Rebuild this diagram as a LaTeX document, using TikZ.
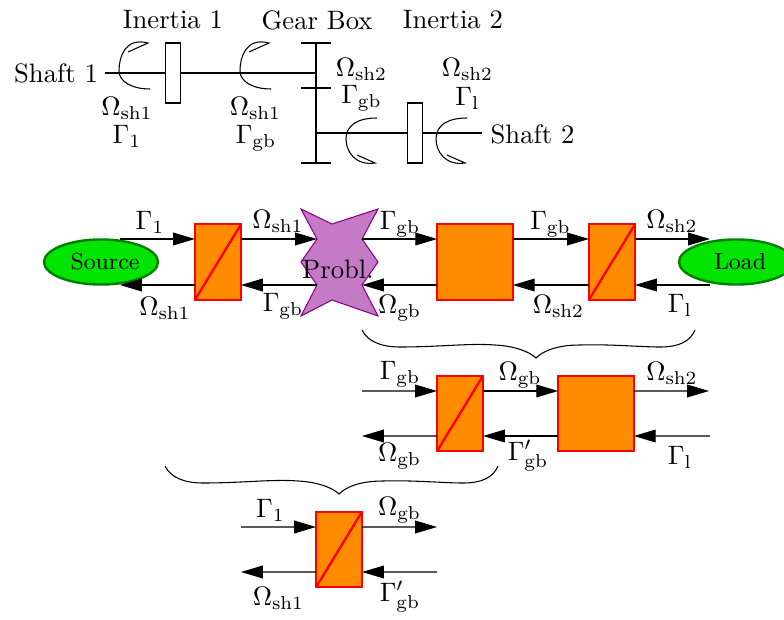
\documentclass[tikz,border=0pt]{standalone}
\usepackage{amsmath,amssymb}
\usepackage{tikz}
\usetikzlibrary{arrows.meta,shapes.geometric}
\usepackage{xcolor}
\definecolor{boxorange}{RGB}{255,140,0}
\definecolor{boxred}{RGB}{255,0,0}
\definecolor{srcgreen}{RGB}{0,228,0}
\definecolor{srcedge}{RGB}{0,128,0}
\definecolor{probfill}{RGB}{196,122,196}
\definecolor{probedge}{RGB}{139,0,139}
\tikzset{
  flow/.style={-{Triangle[length=8.2pt,width=4.8pt]}},
  conv/.style={draw=boxred,line width=0.9pt,fill=boxorange,minimum width=17.25pt,minimum height=28.3pt,inner sep=0pt,outer sep=0pt},
  gain/.style={conv,minimum width=28.4pt},
  diag/.style={boxred,line width=0.9pt},
  ends/.style={ellipse,draw=srcedge,line width=0.9pt,fill=srcgreen,minimum width=42.75pt,minimum height=16.9pt,inner sep=0pt,font=\fontsize{8.7}{10}\selectfont},
  inertia/.style={draw,fill=white,minimum width=5.8pt,minimum height=22.5pt,inner sep=0pt,outer sep=0pt},
  turnup/.pic={\draw (31,16) .. controls (12,16) and (0,8) .. (0,-2) .. controls (0,-16) and (6,-36) .. (29,-30) -- (9,-21);},
  turndown/.pic={\draw (31,-15) .. controls (12,-15) and (0,-8) .. (0,6) .. controls (0,18) and (9,33) .. (29,30) -- (11,22);}
}
\begin{document}
\begin{tikzpicture}[x=0.375pt,y=-0.375pt]
    \useasboundingbox (0,0) rectangle (784,620);
    % shafts
    \node (shaftone) at (56,73) {Shaft 1};
    \node (shafttwo) at (532.5,134) {Shaft 2};
    \node (inertone) at (173,20) {Inertia 1};
    \node (gearbox) at (317,20) {Gear Box};
    \node (inerttwo) at (453,20) {Inertia 2};
    \coordinate (shone) at (105,73);
    \coordinate (gbone) at (316,73);
    \coordinate (gbtwo) at (316,133);
    \coordinate (shtwo) at (482,133);
    \draw (shone) -- (gbone);
    \draw (gbtwo) -- (shtwo);
    \node[inertia] (disc1) at (173,73) {};
    \node[inertia] (disc2) at (415,133) {};
    \draw (316,43) -- (316,163);
    \draw (301,43) -- (331,43);
    \draw (301,88) -- (331,88);
    \draw (301,163) -- (331,163);
    \pic at (119,73) {turnup};
    \pic at (240,73) {turnup};
    \pic at (346,133) {turndown};
    \pic at (436,133) {turndown};
    \node (ta) at (127,108) {$\Omega_{\rm sh1}$};
    \node (tb) at (127,136) {$\Gamma_{1}$};
    \node (tc) at (255.5,108) {$\Omega_{\rm sh1}$};
    \node (td) at (256,138) {$\Gamma_{\rm gb}$};
    \node (te) at (361.5,69) {$\Omega_{\rm sh2}$};
    \node (tf) at (361.5,98) {$\Gamma_{\rm gb}$};
    \node (tg) at (467.5,69) {$\Omega_{\rm sh2}$};
    \node (th) at (467.5,98) {$\Gamma_{\rm l}$};
    % full chain
    \node[ends] (source) at (101,262) {\hspace*{3pt}Source};
    \node[ends] (load) at (736,262) {\hspace*{3pt}Load};
    \node[conv] (c1) at (218,262) {};
    \node[gain] (g1) at (475,262) {};
    \node[conv] (c2) at (612,262) {};
    \draw[diag] (c1.south west) -- (c1.north east);
    \draw[diag] (c2.south west) -- (c2.north east);
    \coordinate (pnw) at (317,239);
    \coordinate (pne) at (362,239);
    \coordinate (pse) at (362,285);
    \coordinate (psw) at (317,285);
    \draw[probedge,fill=probfill] (301,209) -- (332,224) -- (378,209) -- (pne) -- (378,262) -- (pse)
      -- (378,316) -- (332,300) -- (301,316) -- (psw) -- (301,262) -- (pnw) -- cycle;
    \node (prob) at (338,269) {Probl.};
    \coordinate (srcup) at (120,239);
    \coordinate (srcdn) at (120,285);
    \coordinate (loadup) at (710,239);
    \coordinate (loaddn) at (710,285);
    \draw[flow] (srcup) -- ([yshift=8.625pt]c1.west);
    \draw[flow] ([yshift=8.625pt]c1.east) -- (pnw);
    \draw[flow] (pne) -- ([yshift=8.625pt]g1.west);
    \draw[flow] ([yshift=8.625pt]g1.east) -- ([yshift=8.625pt]c2.west);
    \draw[flow] ([yshift=8.625pt]c2.east) -- (loadup);
    \draw[flow] (loaddn) -- ([yshift=-8.625pt]c2.east);
    \draw[flow] ([yshift=-8.625pt]c2.west) -- ([yshift=-8.625pt]g1.east);
    \draw[flow] ([yshift=-8.625pt]g1.west) -- (pse);
    \draw[flow] (psw) -- ([yshift=-8.625pt]c1.east);
    \draw[flow] ([yshift=-8.625pt]c1.west) -- (srcdn);
    \node (ua) at (150,222) {$\Gamma_{1}$};
    \node (ub) at (278,221) {$\Omega_{\rm sh1}$};
    \node (uc) at (400,224) {$\Gamma_{\rm gb}$};
    \node (ud) at (550.5,224) {$\Gamma_{\rm gb}$};
    \node (ue) at (672,221) {$\Omega_{\rm sh2}$};
    \node (uf) at (165,308) {$\Omega_{\rm sh1}$};
    \node (ug) at (283,306) {$\Gamma_{\rm gb}$};
    \node (uh) at (399.5,308) {$\Omega_{\rm gb}$};
    \node (ui) at (558.5,306) {$\Omega_{\rm sh2}$};
    \node (uj) at (680,305) {$\Gamma_{\rm l}$};
    % first brace
    \draw (362,330) .. controls (368,342) and (382,347) .. (400,347) .. controls (440,347) and (470,343) .. (495,345)
      .. controls (515,346) and (530,352) .. (536,358) .. controls (542,352) and (555,345) .. (580,345)
      .. controls (610,344) and (640,347) .. (660,347) .. controls (678,347) and (690,342) .. (695,330);
    % gear box reduced
    \node[conv] (c3) at (460,413.5) {};
    \node[gain] (g2) at (596,413.5) {};
    \draw[diag] (c3.south west) -- (c3.north east);
    \coordinate (midup) at (362,391);
    \coordinate (middn) at (362,436);
    \coordinate (rgtup) at (709,391);
    \coordinate (rgtdn) at (710,436);
    \draw[flow] (midup) -- ([yshift=8.44pt]c3.west);
    \draw[flow] ([yshift=8.44pt]c3.east) -- ([yshift=8.44pt]g2.west);
    \draw[flow] ([yshift=8.44pt]g2.east) -- (rgtup);
    \draw[flow] (rgtdn) -- ([yshift=-8.44pt]g2.east);
    \draw[flow] ([yshift=-8.44pt]g2.west) -- ([yshift=-8.44pt]c3.east);
    \draw[flow] ([yshift=-8.44pt]c3.west) -- (middn);
    \node (va) at (400,374) {$\Gamma_{\rm gb}$};
    \node (vb) at (520,375) {$\Omega_{\rm gb}$};
    \node (vc) at (672,373) {$\Omega_{\rm sh2}$};
    \node (vd) at (399.5,456) {$\Omega_{\rm gb}$};
    \node (ve) at (528,456) {$\Gamma'_{\rm gb}$};
    \node (vf) at (680,457) {$\Gamma_{\rm l}$};
    % second brace
    \draw (165,466) .. controls (171,478) and (185,483) .. (203,483) .. controls (243,483) and (273,479) .. (298,481)
      .. controls (318,482) and (333,488) .. (339,494) .. controls (345,488) and (358,481) .. (383,481)
      .. controls (413,480) and (443,483) .. (463,483) .. controls (481,483) and (493,478) .. (498,466);
    % last one
    \node[conv] (c4) at (339,549.5) {};
    \draw[diag] (c4.south west) -- (c4.north east);
    \coordinate (lowlu) at (241,527);
    \coordinate (lowld) at (241,572);
    \coordinate (lowru) at (437,527);
    \coordinate (lowrd) at (437,572);
    \draw[flow] (lowlu) -- ([yshift=8.44pt]c4.west);
    \draw[flow] ([yshift=8.44pt]c4.east) -- (lowru);
    \draw[flow] (lowrd) -- ([yshift=-8.44pt]c4.east);
    \draw[flow] ([yshift=-8.44pt]c4.west) -- (lowld);
    \node (wa) at (270.5,510) {$\Gamma_{1}$};
    \node (wb) at (399.5,510) {$\Omega_{\rm gb}$};
    \node (wc) at (278.5,598) {$\Omega_{\rm sh1}$};
    \node (wd) at (400,597) {$\Gamma'_{\rm gb}$};
\end{tikzpicture}
\end{document}
